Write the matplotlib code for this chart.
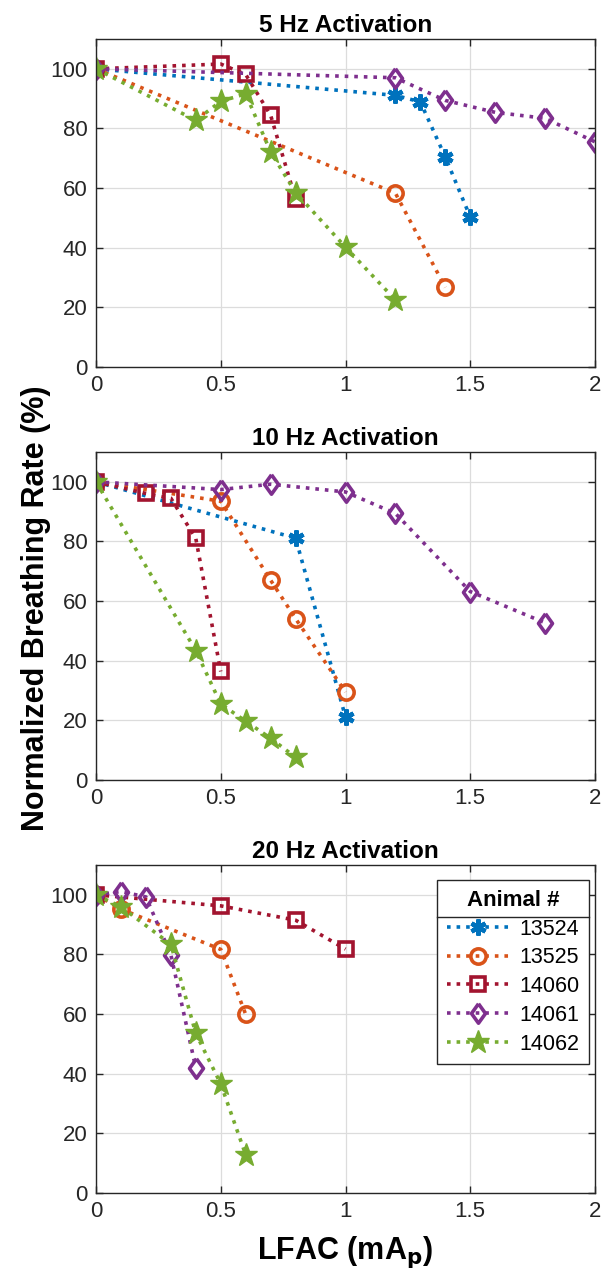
import numpy as np
import matplotlib.pyplot as plt
from matplotlib.lines import Line2D

plt.rcParams['font.family'] = ['Liberation Sans', 'DejaVu Sans']

animals = ['13524', '13525', '14060', '14061', '14062']
colors = ['#0072BD', '#D95319', '#A2142F', '#7E2F8E', '#77AC30']
titles = ['5 Hz Activation', '10 Hz Activation', '20 Hz Activation']

# 5 Hz
x5 = [[0, 1.2, 1.3, 1.4, 1.5],
      [0, 1.2, 1.4],
      [0, 0.5, 0.6, 0.7, 0.8],
      [0, 1.2, 1.4, 1.6, 1.8, 2.0],
      [0, 0.4, 0.5, 0.6, 0.7, 0.8, 1.0, 1.2]]
y5 = [[100, 91.1, 88.9, 70.4, 50.3],
      [100, 58.3, 26.7],
      [100, 101.6, 98.1, 84.4, 56.3],
      [100, 97.0, 89.4, 85.4, 83.4, 75.5],
      [100, 82.7, 89.1, 91.6, 72.1, 58.5, 40.2, 22.5]]

# 10 Hz
x10 = [[0, 0.8, 1.0],
       [0, 0.5, 0.7, 0.8, 1.0],
       [0, 0.2, 0.3, 0.4, 0.5],
       [0, 0.5, 0.7, 1.0, 1.2, 1.5, 1.8],
       [0, 0.4, 0.5, 0.6, 0.7, 0.8]]
y10 = [[100, 81.1, 21.1],
       [100, 93.5, 67.0, 54.1, 29.5],
       [100, 96.1, 94.5, 81.0, 36.4],
       [100, 97.4, 99.2, 96.6, 89.4, 63.2, 52.7],
       [100, 43.4, 25.5, 19.7, 14.0, 7.6]]

# 20 Hz
x20 = [[0],
       [0, 0.1, 0.5, 0.6],
       [0, 0.5, 0.8, 1.0],
       [0, 0.1, 0.2, 0.3, 0.4],
       [0, 0.1, 0.3, 0.4, 0.5, 0.6]]
y20 = [[100],
       [100, 95.2, 81.7, 59.9],
       [100, 96.3, 91.5, 81.8],
       [100, 101.1, 99.3, 79.9, 42.0],
       [100, 96.0, 83.4, 53.5, 36.6, 12.8]]

# matlab-like diamond (a bit wider than matplotlib's 'd')
diamond = [(0, 1), (0.72, 0), (0, -1), (-0.72, 0), (0, 1)]
markers = [(6, 2, 0), 'o', 's', diamond, '*']
msizes = [11.5, 11, 9.5, 14, 17]

W, H = 603, 1272
fig = plt.figure(figsize=(W / 100, H / 100), dpi=100)
panels = [(39, 367), (452, 780), (865, 1193)]
axes = []
for (top, bot) in panels:
    ax = fig.add_axes([96 / W, 1 - bot / H, (595 - 96) / W, (bot - top) / H])
    axes.append(ax)

datasets = [(x5, y5), (x10, y10), (x20, y20)]
tc = '#262626'
for ax, (xs, ys), title in zip(axes, datasets, titles):
    for i in range(len(animals)):
        filled = i in (0, 4)
        ax.plot(xs[i], ys[i], linestyle=':', linewidth=2.6, color=colors[i],
                marker=markers[i], markersize=msizes[i],
                markerfacecolor=colors[i] if filled else 'none',
                markeredgecolor=colors[i],
                markeredgewidth={0: 3.2, 4: 1}.get(i, 2.6),
                label=animals[i])
    ax.set_xlim(0, 2)
    ax.set_ylim(0, 110)
    ax.set_xticks([0, 0.5, 1, 1.5, 2])
    ax.set_xticklabels(['0', '0.5', '1', '1.5', '2'])
    ax.set_yticks([0, 20, 40, 60, 80, 100])
    ax.grid(True, color='#dcdcdc', linewidth=0.9)
    ax.set_axisbelow(True)
    ax.tick_params(direction='in', top=True, right=True, labelsize=16,
                   colors=tc, length=5, width=1, pad=6)
    for s in ax.spines.values():
        s.set_color(tc)
        s.set_linewidth(1)
    ax.set_title(title, fontsize=17.5, fontweight='bold', pad=5, color='black')

fig.text(36 / W, 1 - 608 / H, 'Normalized Breathing Rate (%)', rotation=90,
         ha='center', va='center', fontsize=22, fontweight='bold')
fig.text(0.5 * (96 + 595) / W, 1 - 1252 / H, r'LFAC (mA$_\mathbf{p}$)',
         ha='center', va='center', fontsize=22, fontweight='bold')

leg = axes[2].legend(title='Animal #', loc='upper right',
                     bbox_to_anchor=(0.988, 0.954), borderaxespad=0,
                     fontsize=15.5,
                     title_fontproperties={'weight': 'bold', 'size': 16},
                     handlelength=2.9, handletextpad=0.45, borderpad=0.45,
                     labelspacing=0.36, fancybox=False, edgecolor=tc,
                     framealpha=1)
leg.get_frame().set_linewidth(1)
leg._legend_title_box.set_height(30)

fig.canvas.draw()
r = fig.canvas.get_renderer()
lb = leg.get_window_extent(r)
tb = leg.get_title().get_window_extent(r)
ysep = tb.y0 - 6
inv = fig.transFigure.inverted()
p0 = inv.transform((lb.x0, ysep))
p1 = inv.transform((lb.x1, ysep))
fig.add_artist(Line2D([p0[0], p1[0]], [p0[1], p1[1]], color=tc, linewidth=1,
                      transform=fig.transFigure))

fig.savefig('out.png', dpi=100)
